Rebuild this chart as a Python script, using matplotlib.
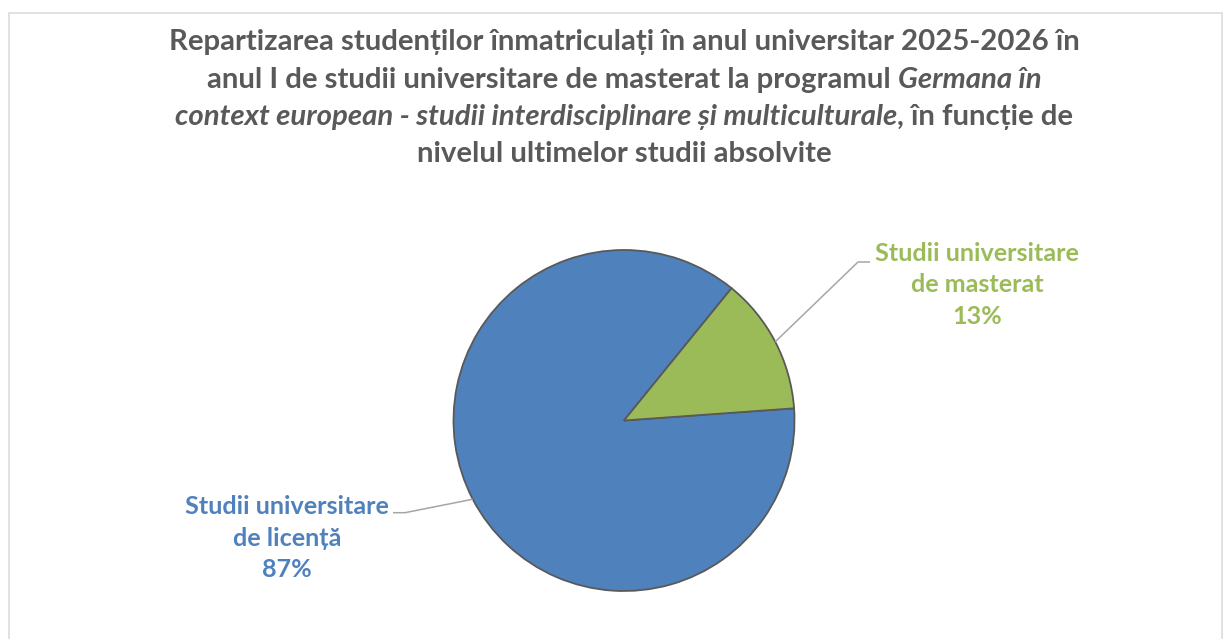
import numpy as np
import matplotlib
matplotlib.use("Agg")
import matplotlib.pyplot as plt
from matplotlib.patches import Rectangle

# ---- data ----
categories = ["Studii universitare\nde licență", "Studii universitare\nde masterat"]
values = [87, 13]
colors = ["#4F81BD", "#9BBB59"]

title_lines = [
    [("Repartizarea studenților înmatriculați în anul universitar 2025-2026 în", "normal")],
    [("anul I de studii universitare de masterat la programul ", "normal"), ("Germana în", "italic")],
    [("context european - studii interdisciplinare și multiculturale", "italic"), (", în funcție de", "normal")],
    [("nivelul ultimelor studii absolvite", "normal")],
]

FONT = "Lato"
W, H = 1228, 639
fig = plt.figure(figsize=(W / 100, H / 100), dpi=100)
ax = fig.add_axes([0, 0, 1, 1])
ax.set_xlim(0, W)
ax.set_ylim(0, H)
ax.axis("off")

# chart border
ax.add_patch(Rectangle((8.5, -10), 1213, H - 12.5 + 10, fill=False,
                       edgecolor="#D9D9D9", linewidth=1.1))

# pie
cx, cy, r = 624, H - 420.5, 170.5
wedges, _ = ax.pie(values, colors=colors, startangle=4.1, counterclock=False,
                   center=(cx, cy), radius=r, frame=True,
                   wedgeprops=dict(edgecolor="#595959", linewidth=1.3))
ax.set_xlim(0, W)
ax.set_ylim(0, H)
ax.set_aspect("equal")
ax.axis("off")

total = sum(values)
label_pos = [(287, H - 538), (977, H - 285)]
elbows = [[(405, H - 512.7), (393, H - 512.7)], [(858, H - 262), (870, H - 262)]]
for w, cat, v, col, lp, el in zip(wedges, categories, values, colors, label_pos, elbows):
    mid = np.deg2rad((w.theta1 + w.theta2) / 2)
    px, py = cx + r * np.cos(mid), cy + r * np.sin(mid)
    xs = [px] + [e[0] for e in el]
    ys = [py] + [e[1] for e in el]
    ax.plot(xs, ys, color="#A6A6A6", linewidth=1.1, solid_capstyle="butt")
    ax.text(lp[0], lp[1], f"{cat}\n{round(100 * v / total)}%", ha="center", va="center",
            color=col, fontsize=18.1, fontweight="bold", family=FONT, linespacing=1.45)

# title with mixed styles
fig.canvas.draw()
rend = fig.canvas.get_renderer()
line_y = [42, 80, 117, 154]
for runs, yy in zip(title_lines, line_y):
    texts = []
    for s, st in runs:
        t = ax.text(0, H - yy, s, ha="left", va="center", color="#595959",
                    fontsize=21.2, fontweight="bold", style=st, family=FONT)
        texts.append(t)
    widths = [t.get_window_extent(renderer=rend).width for t in texts]
    x0 = 624 - sum(widths) / 2
    for t, wdt in zip(texts, widths):
        t.set_x(x0)
        x0 += wdt

fig.savefig("out.png", dpi=100)
